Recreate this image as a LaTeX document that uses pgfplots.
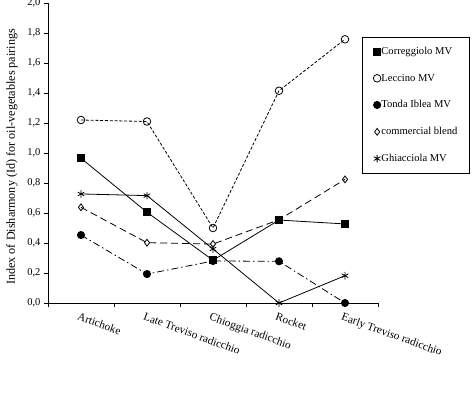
\documentclass[border=0pt]{standalone}
\usepackage{pgfplots}
\pgfplotsset{compat=1.18}
\usepackage{fontspec}
\setmainfont{Liberation Serif}
\begin{document}
\begin{tikzpicture}
\begin{axis}[
  scale only axis, width=330bp, height=300bp,
  xmin=0.5, xmax=5.5, ymin=0, ymax=2,
  clip=false,
  axis lines=left,
  axis line style={-, line width=0.7bp},
  font=\fontsize{10.5}{12}\selectfont,
  tick align=outside,
  tick style={black, line width=0.7bp},
  major tick length=4bp, minor tick length=4bp,
  xtick={1,2,3,4,5},
  xticklabels={Artichoke, Late Treviso radicchio, Chioggia radicchio, Rocket, Early Treviso radicchio},
  major x tick style={draw=none},
  minor xtick={0.5,1.5,2.5,3.5,4.5,5.5},
  xticklabel style={rotate=-20, anchor=north west, xshift=-3bp, yshift=-2bp, font=\fontsize{11.3}{13}\selectfont},
  ytick={0,0.2,0.4,0.6,0.8,1.0,1.2,1.4,1.6,1.8,2.0},
  yticklabel style={font=\fontsize{10.5}{12}\selectfont, /pgf/number format/.cd, fixed, fixed zerofill, precision=1, use comma, assume math mode=true},
  ylabel={Index of Disharmony (Id) for oil-vegetables pairings},
  ylabel style={at={(axis description cs:-0.109,0.487)}, anchor=center, font=\fontsize{12.2}{14}\selectfont},
  legend cell align=left,
  legend image code/.code={\draw[#1,/tikz/only marks,solid] plot coordinates {(0bp,0bp)};},
  legend style={at={(axis description cs:0.9515,0.887)}, anchor=north west,
    draw=black, line width=0.7bp, inner xsep=11bp, inner ysep=8bp, row sep=14bp,
    font=\fontsize{10.6}{12}\selectfont,
    nodes={inner xsep=0.5bp, inner ysep=2bp}},
]
\addplot[black, line width=0.8bp, mark=square*, mark size=3.6bp, mark options={solid}]
  coordinates {(1,0.965) (2,0.605) (3,0.285) (4,0.553) (5,0.527)};
\addlegendentry{Correggiolo MV}
\addplot[black, line width=0.8bp, dash pattern=on 3bp off 1.8bp, mark=o, mark size=3.8bp, mark options={solid, fill=white}]
  coordinates {(1,1.22) (2,1.21) (3,0.50) (4,1.415) (5,1.758)};
\addlegendentry{Leccino MV}
\addplot[black, line width=0.8bp, dash pattern=on 7bp off 3bp on 1.5bp off 3bp, mark=*, mark size=3.6bp, mark options={solid}]
  coordinates {(1,0.453) (2,0.193) (3,0.28) (4,0.278) (5,0.0)};
\addlegendentry{Tonda Iblea MV}
\addplot[black, line width=0.8bp, dash pattern=on 7bp off 4bp, mark=diamond, mark size=3.4bp, mark options={solid, fill=white}]
  coordinates {(1,0.638) (2,0.402) (3,0.393) (4,0.555) (5,0.824)};
\addlegendentry{commercial blend}
\addplot[black, line width=0.8bp, mark=asterisk, mark size=3.8bp, mark options={solid}]
  coordinates {(1,0.727) (2,0.716) (3,0.36) (4,0.0) (5,0.182)};
\addlegendentry{Ghiacciola MV}
\end{axis}
\pgfresetboundingbox
\path[use as bounding box] (-48bp,-101bp) rectangle (425bp,303bp);
\end{tikzpicture}
\end{document}
